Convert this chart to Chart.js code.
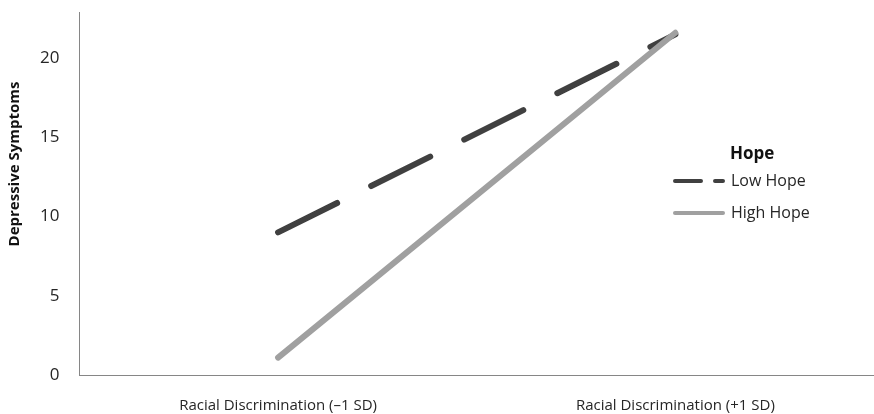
<!DOCTYPE html>
<html>
<head>
<meta charset="utf-8">
<script src="https://cdn.jsdelivr.net/npm/chart.js@4"></script>
<style>
  html, body { margin: 0; padding: 0; background: #fff; }
  #wrap { width: 874px; height: 414px; }
</style>
</head>
<body>
<div id="wrap"><canvas id="hopeChart" width="874" height="414"></canvas></div>
<script>
const categories = ["Racial Discrimination (\u20131 SD)", "Racial Discrimination (+1 SD)"];
const lowHope = [9.0, 21.5];
const highHope = [1.1, 21.6];
const yTicks = [0, 5, 10, 15, 20];
const yTitle = "Depressive Symptoms";

// legend drawn inside the plot, like the original
const hopeLegend = {
  id: "hopeLegend",
  afterDraw(chart, args, opts) {
    const ctx = chart.ctx;
    ctx.save();
    ctx.fillStyle = "#111";
    ctx.font = "bold 17px 'Open Sans'";
    ctx.textBaseline = "middle";
    ctx.fillText(opts.title, opts.x + 55, opts.y - 27);
    chart.data.datasets.forEach((ds, i) => {
      const y = opts.y + i * 32;
      ctx.strokeStyle = ds.borderColor;
      ctx.lineWidth = 4;
      ctx.lineCap = "round";
      ctx.setLineDash(ds.borderDash ? [26, 14] : []);
      ctx.beginPath();
      ctx.moveTo(opts.x, y);
      ctx.lineTo(opts.x + 48, y);
      ctx.stroke();
      ctx.setLineDash([]);
      ctx.fillStyle = "#262626";
      ctx.font = "16px 'Open Sans'";
      ctx.fillText(ds.label, opts.x + 56, y);
    });
    ctx.restore();
  }
};

// y title sits above the axis middle in the original, so draw it by hand
const sideTitle = {
  id: "sideTitle",
  afterDraw(chart, args, opts) {
    const ctx = chart.ctx;
    ctx.save();
    ctx.translate(opts.x, opts.y);
    ctx.rotate(-Math.PI / 2);
    ctx.fillStyle = "#111";
    ctx.font = "bold 15px 'Open Sans'";
    ctx.textAlign = "center";
    ctx.textBaseline = "middle";
    ctx.fillText(opts.text, 0, 0);
    ctx.restore();
  }
};

new Chart(document.getElementById("hopeChart"), {
  type: "line",
  data: {
    labels: categories,
    datasets: [
      {
        label: "Low Hope",
        data: lowHope,
        borderColor: "#404040",
        borderWidth: 6,
        borderDash: [66, 38],
        borderCapStyle: "round",
        pointRadius: 0,
        order: 2,
      },
      {
        label: "High Hope",
        data: highHope,
        borderColor: "#a0a0a0",
        borderWidth: 6,
        borderCapStyle: "round",
        pointRadius: 0,
        order: 1,
      },
    ],
  },
  options: {
    responsive: false,
    animation: false,
    layout: { padding: { top: 0, right: 0, left: 38, bottom: -23 } },
    plugins: {
      legend: { display: false },
      tooltip: { enabled: false },
      hopeLegend: { title: "Hope", x: 675, y: 181 },
      sideTitle: { text: yTitle, x: 15, y: 164 },
    },
    scales: {
      x: {
        offset: true,
        grid: { display: false, drawTicks: false },
        border: { color: "#868686", width: 1 },
        ticks: {
          padding: 22,
          color: "#262626",
          font: { family: "Open Sans", size: 15 },
        },
      },
      y: {
        min: 0,
        max: 22.9,
        afterBuildTicks: (axis) => {
          axis.ticks = yTicks.map((v) => ({ value: v }));
        },
        // invisible tick marks give the gap between labels and axis
        grid: { drawOnChartArea: false, drawTicks: true, tickLength: 18, tickColor: "rgba(0,0,0,0)" },
        border: { color: "#868686", width: 1 },
        ticks: {
          padding: 2,
          color: "#262626",
          font: { family: "Open Sans", size: 17 },
        },
      },
    },
  },
  plugins: [hopeLegend, sideTitle],
});
</script>
</body>
</html>
